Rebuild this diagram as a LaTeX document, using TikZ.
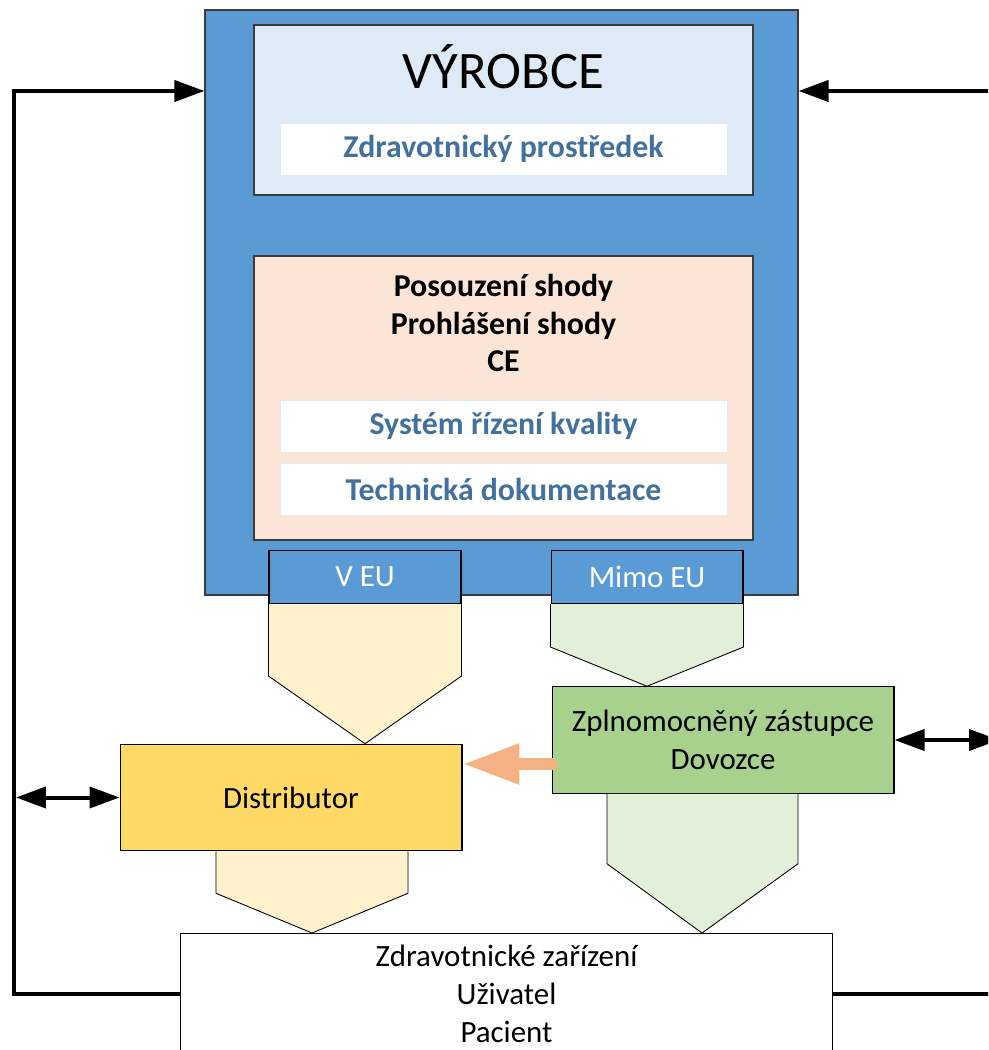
\documentclass[tikz,border=0pt]{standalone}
\usepackage{fontspec}
\setmainfont{Carlito}
\usepackage{xcolor}
\usepackage{tikz}
\usetikzlibrary{
    arrows.meta,
    positioning,
    calc
}
\definecolor{vyrblue}{HTML}{5B9BD5}
\definecolor{paleblue}{HTML}{DEEBF7}
\definecolor{peach}{HTML}{FBE5D6}
\definecolor{textblue}{HTML}{41719C}
\definecolor{paleyellow}{HTML}{FFF2CC}
\definecolor{distyellow}{HTML}{FFD966}
\definecolor{palegreen}{HTML}{E2F0D9}
\definecolor{zplgreen}{HTML}{A9D18E}
\definecolor{arroworange}{HTML}{F4B183}
\definecolor{edgegray}{HTML}{3B3B3B}
\newcommand{\boxfont}{\fontsize{17.6pt}{21.6pt}\selectfont}
\newcommand{\boldfont}{\fontsize{18.1pt}{21.6pt}\selectfont\bfseries}
\newcommand{\vyrfont}{\fontsize{30pt}{36pt}\selectfont}
\tikzset{
    panel/.style={
        rectangle,
        draw=edgegray,
        line width=0.7pt,
        inner sep=0pt
    },
    whitebox/.style={
        rectangle,
        fill=white,
        draw=paleblue,
        line width=0.5pt,
        minimum width=8.94cm,
        minimum height=1.04cm,
        font=\boldfont,
        text=textblue
    },
    tab/.style={
        rectangle,
        fill=vyrblue,
        draw=black,
        line width=0.6pt,
        minimum width=3.84cm,
        minimum height=1.06cm,
        font=\boxfont,
        text=white
    },
    actor/.style={
        rectangle,
        draw=black,
        line width=0.6pt,
        align=center,
        minimum width=6.84cm,
        minimum height=2.13cm,
        font=\boxfont
    },
    chevron/.style={
        draw=black,
        line width=0.5pt
    },
    arrow/.style={
        -{Triangle[length=0.6cm, width=0.42cm]},
        line width=0.08cm
    },
    dblarrow/.style={
        {Triangle[length=0.6cm, width=0.42cm]}-{Triangle[length=0.6cm, width=0.42cm]},
        line width=0.08cm
    },
    passarrow/.style={
        -{Triangle[length=1.14cm, width=0.76cm]},
        line width=0.24cm,
        line cap=round,
        draw=arroworange
    }
}
\begin{document}
\begin{tikzpicture}[x=0.02cm, y=-0.02cm]
\useasboundingbox (0,0) rectangle (988,1050);
\clip (0,0) rectangle (988,1050);

% manufacturer block
\node[panel, fill=vyrblue, minimum width=11.86cm, minimum height=11.70cm] (big) at (501.5,302.5) {};
\node[panel, fill=paleblue, minimum width=9.98cm, minimum height=3.40cm] (vyr) at (503.5,110) {};
\node[font=\vyrfont] (vyrT) at (503.5,67) {VÝROBCE};
\node[whitebox] (zp) at (503.5,149) {Zdravotnický prostředek};
\node[panel, fill=peach, minimum width=9.98cm, minimum height=5.68cm] (shodaBox) at (503.5,398) {};
\node[font=\boldfont, align=center] (shoda) at (503.5,323) {Posouzení shody\\Prohlášení shody\\CE};
\node[whitebox] (sys) at (503.5,426) {Systém řízení kvality};
\node[whitebox] (tech) at (503.5,489.5) {Technická dokumentace};

\node[tab] (veu) at (365,577) {V EU};
\node[tab] (mimo) at (647,577) {Mimo EU};

% actors
\node[actor, fill=distyellow] (dist) at (291,797.5) {Distributor};
\node[actor, fill=zplgreen] (zpl) at (723,740) {Zplnomocněný zástupce\\Dovozce};
\node[actor, fill=white, anchor=north, minimum width=13.06cm, minimum height=2.4cm] (bot) at (506.5,933) {Zdravotnické zařízení\\Uživatel\\Pacient};

% chevrons
\draw[chevron, fill=paleyellow] (veu.south west) -- ++(0,72) -- (veu.south |- dist.north) -- ($(veu.south east)+(0,72)$) -- (veu.south east);
\draw[chevron, fill=palegreen] (mimo.south west) -- ++(0,43) -- (mimo.south |- zpl.north) -- ($(mimo.south east)+(0,43)$) -- (mimo.south east);
\draw[chevron, fill=paleyellow] ($(dist.south)+(-75,0)$) -- ++(0,42) -- ($(dist.south |- bot.north)+(21,0)$) -- ($(dist.south)+(117,42)$) -- ($(dist.south)+(117,0)$);
\draw[chevron, fill=palegreen] ($(zpl.south)+(-116,0)$) -- ++(0,70) -- ($(zpl.south |- bot.north)+(-21,0)$) -- ($(zpl.south)+(75,70)$) -- ($(zpl.south)+(75,0)$);

% feedback loops
\coordinate (loopL) at (14,91);
\coordinate (loopR) at (1001,91);
\draw[arrow] (bot.west) -| (loopL) -- (loopL -| big.west);
\draw[arrow] (bot.east) -| (loopR) -- (loopR -| big.east);
\draw[dblarrow, shorten <=0.04cm] (loopL |- dist.west) -- (dist.west);
\draw[dblarrow, shorten >=0.04cm] (zpl.east) -- (zpl.east -| loopR);

\coordinate (handover) at ([yshift=-0.48cm]zpl.west);
\draw[passarrow] (handover) -- (handover -| dist.east);

\end{tikzpicture}
\end{document}
